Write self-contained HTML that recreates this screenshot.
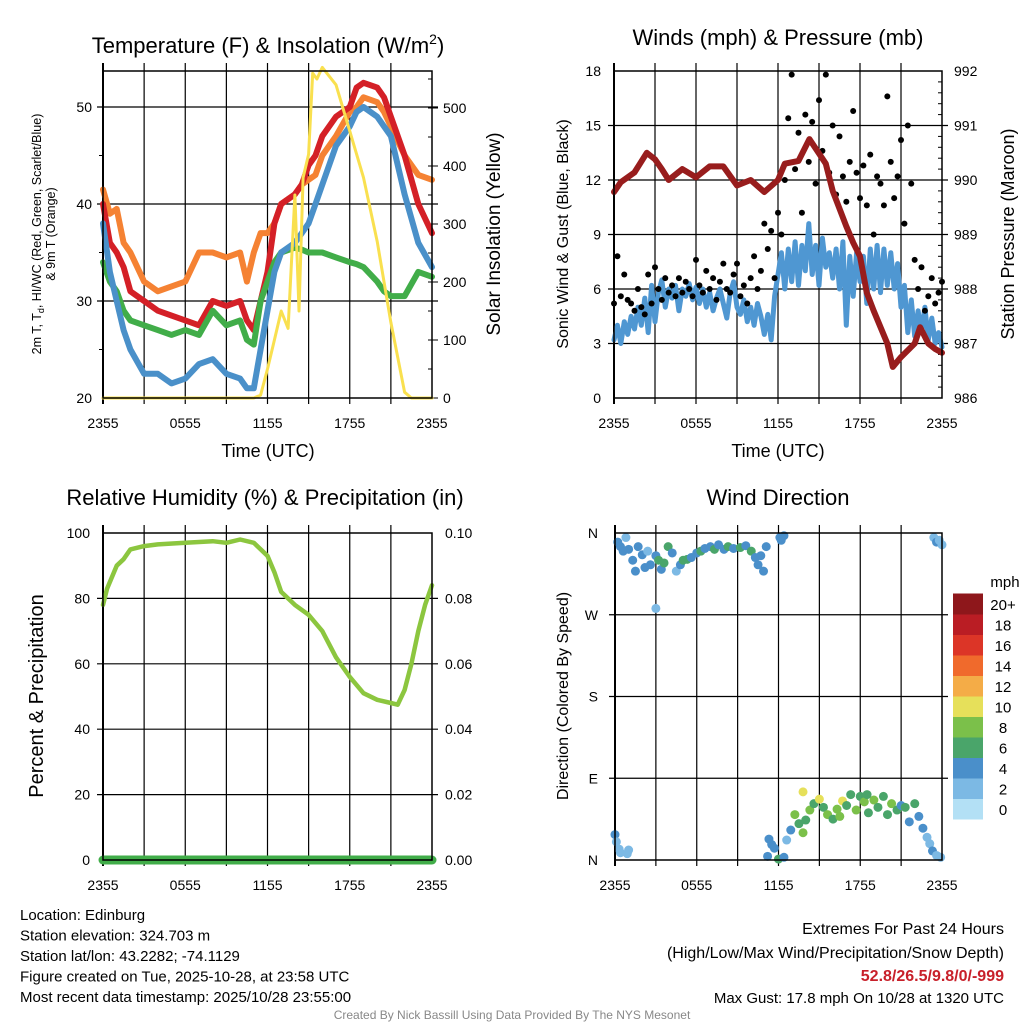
<!DOCTYPE html>
<html><head><meta charset="utf-8"><style>
html,body{margin:0;padding:0;background:#fff;}
svg{display:block;font-family:"Liberation Sans",sans-serif;}
</style></head><body>
<svg id="c" width="1024" height="1024" viewBox="0 0 1024 1024" xmlns="http://www.w3.org/2000/svg"></svg>
<script>
// ---- data ----
const hourTicks=["2355","0555","1155","1755","2355"];
const tempT=[0,0.5,1,1.5,2,3,4,5,6,7,8,9,10,10.5,11,11.5,12,12.5,13,14,14.5,15,15.5,16,17,18,18.5,19,20,20.5,21,22,23,24];
const redT=[40,36,35,33.5,31,30,29,28.5,28,27.5,30,29.5,30,28,27,30,33,38,40,41,42,44,45,47,49,50,52,52.5,52,51,49,45,40,37];
const orgT=[41.5,39,39.5,36,35,32,31,31.5,32,35,35,34.5,35,32,35,37,37,38,40,41,42,42.5,43,45,47,49.5,50,51,50.5,49.5,48,45,43,42.5];
const grnT=[34,32,31,29,28,27.5,27,26.5,27,26.5,29,27.5,28,26,25.5,30,32,34,35,35.5,35.3,35,35,35,34.5,34,33.8,33.5,32,31,30.5,30.5,33,32.5];
const bluT=[38,33,30,27,25,22.5,22.5,21.5,22,23.5,24,22.5,22,21,21,25,29,33,35,36,37,38,40,42,46,48,49.5,50,49,48,47,41,36,33.5];
const solT=[0,11,11.5,12,12.5,13,13.5,14,14.3,14.6,15,15.3,15.6,16,17,18,19,20,21,22,22.5,24];
const solV=[0,0,5,50,100,150,120,350,150,380,420,560,550,570,540,460,380,270,130,10,0,0];
const windV=[3.2,4.0,3.0,4.2,3.5,4.5,3.8,5.0,4.0,5.5,3.6,6.2,4.2,5.8,6.5,5.0,6.0,5.5,6.2,4.8,6.0,5.6,6.3,5.4,6.1,5.2,6.0,5.0,5.8,4.8,5.5,6.0,5.2,4.4,5.8,6.4,5.0,4.6,5.4,4.2,5.0,4.0,5.2,4.5,3.5,4.6,3.2,5.6,6.8,8.0,6.0,8.2,6.4,8.6,6.2,8.4,7.0,9.6,6.8,8.4,6.2,8.8,7.2,8.0,6.6,8.2,6.0,8.6,4.0,7.8,5.6,8.0,6.4,7.8,5.2,8.2,6.0,8.4,5.8,8.2,6.2,8.0,6.0,7.4,5.0,6.2,3.6,5.4,3.4,4.8,3.6,5.0,3.2,4.4,3.0,3.6,2.8];
const gustV=[5.2,7.8,5.6,6.8,5.4,5.2,4.8,6.0,5.0,4.6,6.8,5.2,7.2,6.0,5.4,6.6,5.8,6.2,5.6,6.6,5.8,6.4,6.0,5.6,7.6,6.2,5.8,7.0,6.0,6.6,5.4,6.4,7.4,6.0,5.8,6.8,7.4,5.6,6.2,5.2,6.6,7.8,6.0,7.0,9.6,8.2,9.2,6.6,10.2,9.0,12.0,15.4,17.8,12.6,14.6,10.2,15.6,13.0,15.2,11.8,16.4,13.6,17.8,12.4,15.0,11.2,14.4,12.2,10.8,13.0,15.8,12.4,11.0,12.8,10.6,13.4,9.0,12.2,11.8,10.6,16.6,13.0,11.0,12.2,14.2,9.6,15.0,11.8,7.6,6.0,7.2,4.8,5.6,6.6,5.2,5.8,6.4];
const presT=[0,0.5,1.5,2.4,3,3.5,4,5,6,7,8,9,10,11,12,12.5,13.5,14.3,15.5,16,17,17.5,18,18.5,19,20,20.4,21,22,22.4,23,23.5,24];
const presV=[989.78,989.96,990.14,990.5,990.38,990.2,990.0,990.2,990.05,990.25,990.25,989.9,990.0,989.78,990.0,990.3,990.35,990.75,990.3,989.8,989.15,988.85,988.6,987.93,987.6,987.0,986.57,986.75,987.0,987.3,987.0,986.9,986.83];
const rhT=[0,0.3,1,1.5,2,3,4,6,8,9,10,11,12,12.5,13,14,15,16,17,18,19,20,21,21.5,22,22.5,23,23.5,24];
const rhV=[78,83,90,92,95,96,96.5,97,97.5,97,98,97,93,88,82,78,75,70,62,56,51,49,48,47.5,52,60,70,78,84];
const dirT=[0.2,0.4,0.6,0.8,1,1.3,1.5,1.7,2,2.2,2.4,2.6,3,3.2,3.4,3.6,3.9,4.2,4.5,4.8,5,5.3,5.6,6,6.3,6.6,7,7.3,7.6,8,8.3,8.7,9.2,9.6,10,10.3,10.5,10.7,10.9,11.1,3,12.2,12.4,12.1,23.4,23.6,23.8,24,0,0.1,0.3,0.4,0.9,1,11.3,11.5,11.7,11.2,12,12.4,12.6,12.9,13.2,13.5,13.8,14,14.3,14.6,15,15.3,15.6,16,16.3,16.7,17,17.3,17.7,18,18.3,18.6,19,19.3,19.7,20,20.3,20.7,21,21.3,21.6,22,22.3,22.6,22.9,23.1,23.3,23.6,23.9,13.8,16.5,18.5];
const dirV=[350,345,340,355,342,330,318,345,336,322,340,325,335,330,320,327,345,338,318,325,330,331,333,338,340,343,345,342,347,342,345,343,344,346,340,333,325,335,318,345,277,352,357,355,355,350,352,347,28,20,12,8,7,11,23,17,13,4,1,3,22,33,50,40,30,44,55,62,67,58,50,45,56,65,60,72,55,70,64,52,66,58,70,50,62,55,60,58,42,62,48,35,25,18,10,5,3,75,48,72];
const dirS=[4,4,4,2,4,4,4,4,4,4,2,4,4,6,4,6,6,4,2,4,6,6,4,4,6,4,4,6,4,4,6,4,6,4,6,4,4,4,4,4,2,4,4,4,2,4,2,2,4,2,2,2,2,2,4,4,4,4,6,4,2,4,8,6,8,6,8,6,10,6,8,6,8,10,6,6,8,6,8,6,8,6,6,6,8,6,4,6,4,6,4,4,2,2,4,2,2,10,8,6];
const spdColors=["#b3e0f5","#7cb9e4","#4a8fca","#4aa56a","#7bc04a","#e6e05a","#f4ac47","#f06a2c","#dc3527","#ba1d24","#8e171b"];
const spdLabels=["0","2","4","6","8","10","12","14","16","18","20+"];

const NS="http://www.w3.org/2000/svg";
const svg=document.getElementById('c');
function mk(tag,attrs,parent){const e=document.createElementNS(NS,tag);for(const k in attrs)e.setAttribute(k,attrs[k]);(parent||svg).appendChild(e);return e;}
function txt(x,y,s,size,anchor,extra,parent){const e=mk('text',Object.assign({x:x,y:y,'font-size':size,'text-anchor':anchor||'middle',fill:'#000'},extra||{}),parent);e.textContent=s;return e;}

function panel(L,T,R,B,name){
  const g=mk('g',{});
  
  
  const sx=t=>L+t*(R-L)/24;
  for(let i=1;i<8;i++){const x=sx(i*3);mk('line',{x1:x,y1:T-8,x2:x,y2:B+6,stroke:'#000','stroke-width':1.2},g);}
  hourTicks.forEach((s,i)=>{const l=txt(sx(i*6),B+30,s,14,'middle',{},g);});
  return {g,sx};
}
function poly(pts,color,w,parent,name){const p=mk('polyline',{points:pts.map(p=>p[0].toFixed(1)+','+p[1].toFixed(1)).join(' '),fill:'none',stroke:color,'stroke-width':w,'stroke-linejoin':'round','stroke-linecap':'round'},parent);return p;}
function frame(L,T,R,B,g){mk('rect',{x:L,y:T,width:R-L,height:B-T,fill:'none',stroke:'#000','stroke-width':1.5},g);}

// ---- Panel 1: temperature ----
{const L=103,T=71,R=432,B=398;const P=panel(L,T,R,B,'temperature-panel');const g=P.g,sx=P.sx;
 const sy=v=>B-(v-20)*9.7, sr=v=>B-v*0.58;
 [30,40,50].forEach(v=>mk('line',{x1:L-6,y1:sy(v),x2:R+6,y2:sy(v),stroke:'#000','stroke-width':1.2},g));
 [20,30,40,50].forEach(v=>txt(L-11,sy(v)+5,String(v),14,'end',{},g));
 [25,35,45].forEach(v=>mk('line',{x1:L-4,y1:sy(v),x2:L,y2:sy(v),stroke:'#000'},g));
 for(let v=0;v<=550;v+=50){mk('line',{x1:R,y1:sr(v),x2:R-4,y2:sr(v),stroke:'#000'},g);}
 for(let v=0;v<=500;v+=100){mk('line',{x1:R,y1:sr(v),x2:R+6,y2:sr(v),stroke:'#000'},g);txt(R+11,sr(v)+5,String(v),14,'start',{},g);}
 mk('line',{x1:L,y1:T-8,x2:L,y2:B+6,stroke:'#000','stroke-width':2},g);
 poly(tempT.map((t,i)=>[sx(t),sy(orgT[i])]),'#f58233',6,g,'orange-9m-temp-line');
 poly(tempT.map((t,i)=>[sx(t),sy(redT[i])]),'#d42027',6,g,'red-2m-temp-line');
 poly(tempT.map((t,i)=>[sx(t),sy(grnT[i])]),'#41ad49',6,g,'green-dewpoint-line');
 poly(tempT.map((t,i)=>[sx(t),sy(bluT[i])]),'#4a90c9',6,g,'blue-windchill-line');
 poly(solT.map((t,i)=>[sx(t),sr(solV[i])]),'#f9e04f',3,g,'yellow-insolation-line');
 frame(L,T,R,B,g);
 const tt=txt(268,53,'',22,'middle',{},g);tt.innerHTML='Temperature (F) &amp; Insolation (W/m<tspan font-size="14" dy="-9">2</tspan><tspan dy="9">)</tspan>';
 
 txt(268,457,'Time (UTC)',18,'middle',{},g);
 const yt=txt(0,0,'',12.5,'middle',{transform:'translate(41,234) rotate(-90)'},g);yt.innerHTML='2m T, T<tspan font-size="9" dy="3">d</tspan><tspan dy="-3">, HI/WC (Red, Green, Scarlet/Blue)</tspan>';
 
 txt(0,0,'& 9m T (Orange)',12.5,'middle',{transform:'translate(55,234) rotate(-90)'},g);
 txt(0,0,'Solar Insolation (Yellow)',19,'middle',{transform:'translate(500,234) rotate(-90)'},g);
}
// ---- Panel 2: winds ----
{const L=614,T=71,R=942,B=398;const P=panel(L,T,R,B,'winds-panel');const g=P.g,sx=P.sx;
 const sy=v=>B-v*(B-T)/18, sp=v=>B-(v-986)*(B-T)/6;
 [3,6,9,12,15].forEach(v=>mk('line',{x1:L-6,y1:sy(v),x2:R+6,y2:sy(v),stroke:'#000','stroke-width':1.2},g));
 [0,3,6,9,12,15,18].forEach(v=>txt(L-13,sy(v)+5,String(v),14,'end',{},g));
 for(let v=986;v<=992;v+=0.2){mk('line',{x1:R,y1:sp(v),x2:R-4,y2:sp(v),stroke:'#000'},g);}
 for(let v=986;v<=992;v++){txt(R+12,sp(v)+5,String(v),14,'start',{},g);}
 mk('line',{x1:L,y1:T-8,x2:L,y2:B+6,stroke:'#000','stroke-width':2},g);
 poly(windV.map((v,i)=>[sx(i*0.25),sy(v)]),'#4f97d2',5,g,'sonic-wind-line');
 gustV.forEach((v,i)=>{const c=mk('circle',{cx:sx(i*0.25),cy:sy(v),r:3,fill:'#000'},g);});
 poly(presT.map((t,i)=>[sx(t),sp(presV[i])]),'#981d1d',6,g,'station-pressure-line');
 frame(L,T,R,B,g);
 txt(778,45,'Winds (mph) & Pressure (mb)',22,'middle',{},g);
 txt(778,457,'Time (UTC)',18,'middle',{},g);
 txt(0,0,'Sonic Wind & Gust (Blue, Black)',16,'middle',{transform:'translate(568,234) rotate(-90)'},g);
 txt(0,0,'Station Pressure (Maroon)',18,'middle',{transform:'translate(1014,234) rotate(-90)'},g);
}
// ---- Panel 3: RH ----
{const L=103,T=533,R=432,B=860;const P=panel(L,T,R,B,'humidity-panel');const g=P.g,sx=P.sx;
 const sy=v=>B-v*(B-T)/100;
 [20,40,60,80].forEach(v=>mk('line',{x1:L-6,y1:sy(v),x2:R+6,y2:sy(v),stroke:'#000','stroke-width':1.2},g));
 [0,20,40,60,80,100].forEach(v=>{txt(L-13,sy(v)+5,String(v),14,'end',{},g);txt(R+13,sy(v)+5,(v/1000).toFixed(2),14,'start',{},g);});
 mk('line',{x1:L,y1:T-8,x2:L,y2:B+6,stroke:'#000','stroke-width':2},g);
 poly([[L,B],[R,B]],'#41ad49',9,g,'precipitation-line');
 poly(rhT.map((t,i)=>[sx(t),sy(rhV[i])]),'#8cc63f',4.5,g,'relative-humidity-line');
 frame(L,T,R,B,g);
 txt(265,505,'Relative Humidity (%) & Precipitation (in)',22,'middle',{},g);
 txt(0,0,'Percent & Precipitation',20,'middle',{transform:'translate(43,696) rotate(-90)'},g);
}
// ---- Panel 4: wind direction ----
{const L=615,T=533,R=942,B=860;const P=panel(L,T,R,B,'wind-direction-panel');const g=P.g,sx=P.sx;
 const sy=v=>B-v*(B-T)/360;
 [90,180,270].forEach(v=>mk('line',{x1:L-6,y1:sy(v),x2:R+6,y2:sy(v),stroke:'#000','stroke-width':1.2},g));
 ['N','E','S','W','N'].forEach((s,i)=>txt(L-17,sy(i*90)+5,s,14,'end',{},g));
 mk('line',{x1:L,y1:T-8,x2:L,y2:B+6,stroke:'#000','stroke-width':2},g);
 dirT.forEach((t,i)=>{const c=mk('circle',{cx:sx(t),cy:sy(dirV[i]),r:4.5,fill:spdColors[Math.min(10,Math.round(dirS[i]/2))]},g);});
 frame(L,T,R,B,g);
 txt(778,505,'Wind Direction',22,'middle',{},g);
 txt(0,0,'Direction (Colored By Speed)',16,'middle',{transform:'translate(568,696) rotate(-90)'},g);
 const cb=mk('g',{},g);
 const h=20.5;
 spdColors.forEach((c,i)=>{const y=819-(i+1)*h;mk('rect',{x:953,y:y,width:30,height:h+0.5,fill:c},cb);txt(1003,y+h/2+6,spdLabels[i],15,'middle',{},cb);});
 txt(1005,587,'mph',15,'middle',{},cb);
}
// ---- footer text ----
{const g=mk('g',{});
 ['Location: Edinburg','Station elevation: 324.703 m','Station lat/lon: 43.2282; -74.1129','Figure created on Tue, 2025-10-28, at 23:58 UTC','Most recent data timestamp: 2025/10/28 23:55:00'].forEach((s,i)=>txt(20,920+i*20.5,s,15,'start',{},g));
 const e=mk('g',{});
 txt(1004,934,'Extremes For Past 24 Hours',16,'end',{},e);
 txt(1004,958,'(High/Low/Max Wind/Precipitation/Snow Depth)',16,'end',{},e);
 txt(1004,981,'52.8/26.5/9.8/0/-999',16,'end',{fill:'#c8202a','font-weight':'bold'},e);
 txt(1004,1003,'Max Gust: 17.8 mph On 10/28 at 1320 UTC',15,'end',{},e);
 txt(512,1019,'Created By Nick Bassill Using Data Provided By The NYS Mesonet',12,'middle',{fill:'#888'});
}
</script>
</body></html>
